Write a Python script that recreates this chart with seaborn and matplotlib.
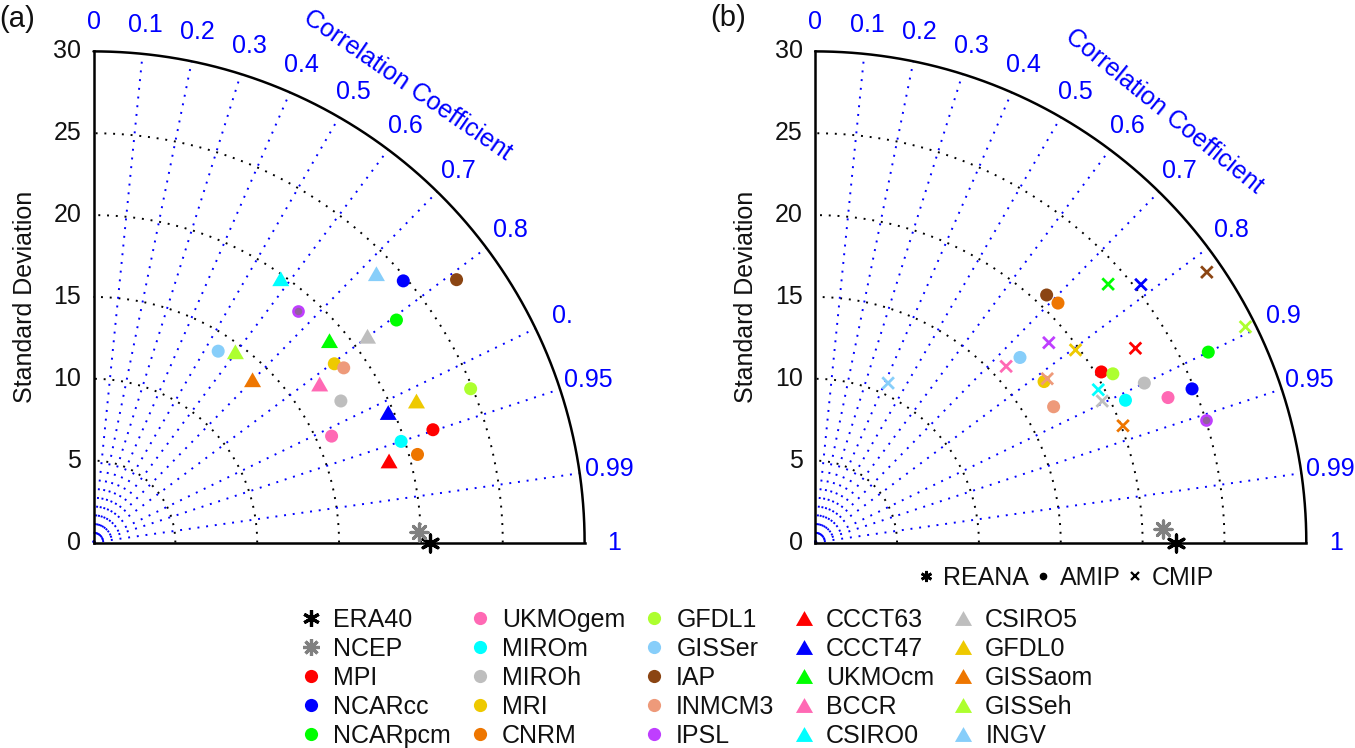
import numpy as np
import pandas as pd
import matplotlib
matplotlib.use("Agg")
import matplotlib.pyplot as plt
import seaborn as sns
from matplotlib.lines import Line2D

sns.set_theme(style="white")
plt.rcParams["font.family"] = ["Liberation Sans", "DejaVu Sans"]

# ---------------- data ----------------
ref_names = ["ERA40", "NCEP"]
ref_colors = ["#000000", "#808080"]

circle_names = ["MPI", "NCARcc", "NCARpcm", "UKMOgem", "MIROm", "MIROh", "MRI",
                "CNRM", "GFDL1", "GISSer", "IAP", "INMCM3", "IPSL"]
circle_colors = ["#ff0000", "#0000ff", "#00ff00", "#ff69b4", "#00ffff", "#bebebe",
                 "#eec900", "#ee7600", "#adff2f", "#87cefa", "#8b4513", "#ee9a7a",
                 "#bf3eff"]
tri_names = ["CCCT63", "CCCT47", "UKMOcm", "BCCR", "CSIRO0", "CSIRO5", "GFDL0",
             "GISSaom", "GISSeh", "INGV"]
tri_colors = circle_colors[:10]

# panel (a): standard deviation and correlation
a_ref_std = [20.54, 19.89]
a_ref_corr = [1.0, 0.9995]
a_circle_std = [21.85, 24.77, 22.96, 15.93, 19.78, 17.41, 18.32,
                20.51, 24.88, 13.95, 27.38, 18.64, 18.85]
a_circle_corr = [0.949, 0.764, 0.806, 0.913, 0.950, 0.868, 0.803,
                 0.965, 0.926, 0.546, 0.810, 0.820, 0.663]
a_tri_std = [18.73, 19.68, 18.97, 16.87, 19.76, 20.95, 21.54, 13.90, 14.52, 23.84]
a_tri_corr = [0.964, 0.915, 0.760, 0.819, 0.579, 0.799, 0.916, 0.699, 0.597, 0.725]

# panel (b): AMIP (circles) and CMIP (crosses), same model order as circle_names
b_ref_std = [22.05, 21.25]
b_ref_corr = [1.0, 0.9993]
b_amip_std = [20.35, 24.86, 26.68, 23.30, 20.85, 22.34, 17.09,
              20.83, 20.90, 16.86, 20.70, 16.76, 25.03]
b_amip_corr = [0.859, 0.926, 0.900, 0.925, 0.909, 0.900, 0.818,
               0.712, 0.870, 0.742, 0.683, 0.869, 0.954]
b_cmip_std = [22.88, 25.38, 23.86, 15.87, 19.65, 19.55, 19.78,
              20.11, 29.40, 10.71, 29.07, 17.35, 18.78]
b_cmip_corr = [0.855, 0.784, 0.750, 0.735, 0.880, 0.897, 0.804,
               0.935, 0.894, 0.416, 0.823, 0.817, 0.760]

corr_ticks = [0, 0.1, 0.2, 0.3, 0.4, 0.5, 0.6, 0.7, 0.8, 0.9, 0.95, 0.99, 1]
corr_labels_a = ["0", "0.1", "0.2", "0.3", "0.4", "0.5", "0.6", "0.7", "0.8",
                 "0.", "0.95", "0.99", "1"]
corr_labels_b = ["0", "0.1", "0.2", "0.3", "0.4", "0.5", "0.6", "0.7", "0.8",
                 "0.9", "0.95", "0.99", "1"]
corr_lines = [0.1, 0.2, 0.3, 0.4, 0.5, 0.6, 0.7, 0.8, 0.9, 0.95, 0.99]
std_ticks = [0, 5, 10, 15, 20, 25, 30]
std_arcs = [5, 10, 15, 20, 25]
std_max = 30

# ---------------- figure ----------------
FS = 18
W, H = 1355, 748
S = 16.37  # pixels per std unit
fig = plt.figure(figsize=(W / 100, H / 100), dpi=100)


def make_axes(x0, y0):
    ax = fig.add_axes([x0 / W, (H - y0) / H, std_max * S / W, std_max * S / H])
    ax.set_xlim(0, std_max)
    ax.set_ylim(0, std_max)
    ax.axis("off")
    return ax


def to_df(names, std, corr):
    std = np.asarray(std, float)
    th = np.arccos(np.clip(np.asarray(corr, float), -1, 1))
    return pd.DataFrame({"model": names, "x": std * np.cos(th), "y": std * np.sin(th)})


DOT = (0, (1, 3.5))


def draw_frame(ax, labels, cc_ang, cc_rot):
    t = np.linspace(0, np.pi / 2, 400)
    for r in std_arcs:
        ax.plot(r * np.cos(t), r * np.sin(t), color="black", lw=1.4, ls=DOT,
                clip_on=False, zorder=1)
    for c in corr_lines:
        th = np.arccos(c)
        ax.plot([0, std_max * np.cos(th)], [0, std_max * np.sin(th)], color="#0000ff",
                lw=1.4, ls=DOT, clip_on=False, zorder=1)
    ax.plot(std_max * np.cos(t), std_max * np.sin(t), color="black", lw=1.8,
            clip_on=False, zorder=2)
    ax.plot([0, 0], [0, std_max], color="black", lw=1.8, clip_on=False, zorder=2,
            solid_capstyle="projecting")
    ax.plot([0, std_max], [0, 0], color="black", lw=1.8, clip_on=False, zorder=2,
            solid_capstyle="projecting")
    for v in std_ticks:
        ax.text(-0.75, v, str(v), ha="right", va="center", fontsize=FS, color="#111111")
    ax.text(-4.2, std_max / 2, "Standard Deviation", rotation=90, ha="center",
            va="center", fontsize=FS, color="#111111")
    for c, lab in zip(corr_ticks, labels):
        th = np.arccos(c)
        ax.text(31.8 * np.cos(th), 31.8 * np.sin(th), lab, ha="center", va="center",
                fontsize=FS, color="#0000ff")
    a = np.deg2rad(cc_ang)
    ax.text(33.9 * np.cos(a), 33.9 * np.sin(a), "Correlation Coefficient",
            rotation=cc_rot, rotation_mode="anchor", ha="center", va="center",
            fontsize=FS, color="#0000ff")


ax_a = make_axes(93.5, 542.5)
ax_b = make_axes(815.2, 542.5)
draw_frame(ax_a, corr_labels_a, 55.5, -34.5)
draw_frame(ax_b, corr_labels_b, 51.0, -39.0)

circ_pal = dict(zip(circle_names, circle_colors))
tri_pal = dict(zip(tri_names, tri_colors))
TRI = [(0, 0.87), (-1, -0.87), (1, -0.87)]
ref_markers = [(6, 2, 0), (8, 2, 0)]


def draw_refs(ax, std, corr):
    df = to_df(ref_names, std, corr)
    for i in range(len(df)):
        sns.scatterplot(x=df.x.iloc[[i]], y=df.y.iloc[[i]], color=ref_colors[i],
                        marker=ref_markers[i], s=150, linewidth=2.3, ax=ax,
                        legend=False, clip_on=False, zorder=5)


def draw_circles(ax, std, corr):
    df = to_df(circle_names, std, corr)
    main = df[df.model != "IPSL"]
    sns.scatterplot(data=main, x="x", y="y", hue="model", palette=circ_pal,
                    marker="o", s=88, linewidth=0, edgecolor="none", ax=ax,
                    legend=False, clip_on=False, zorder=4)
    ip = df[df.model == "IPSL"]
    sns.scatterplot(data=ip, x="x", y="y", color="#93609f", marker="o", s=52,
                    linewidth=1.9, edgecolor="#bf3eff", ax=ax, legend=False,
                    clip_on=False, zorder=4)


# panel (a)
draw_circles(ax_a, a_circle_std, a_circle_corr)
dft = to_df(tri_names, a_tri_std, a_tri_corr)
sns.scatterplot(data=dft, x="x", y="y", hue="model", palette=tri_pal, marker=TRI,
                s=150, linewidth=0, edgecolor="none", ax=ax_a, legend=False,
                clip_on=False, zorder=4)
draw_refs(ax_a, a_ref_std, a_ref_corr)

# panel (b)
draw_circles(ax_b, b_amip_std, b_amip_corr)
dfx = to_df(circle_names, b_cmip_std, b_cmip_corr)
sns.scatterplot(data=dfx, x="x", y="y", hue="model", palette=circ_pal, marker="x",
                s=70, linewidth=2.0, ax=ax_b, legend=False, clip_on=False, zorder=5)
draw_refs(ax_b, b_ref_std, b_ref_corr)

# panel tags
fig.text(17 / W, 1 - 19 / H, "(a)", ha="center", va="center", fontsize=FS + 3,
         color="#111111")
fig.text(728 / W, 1 - 18 / H, "(b)", ha="center", va="center", fontsize=FS + 3,
         color="#111111")

# main legend
handles, labels = [], []
for n, c, m in zip(ref_names, ref_colors, ref_markers):
    handles.append(Line2D([], [], ls="none", marker=m, color=c, markersize=12, mew=2.3))
    labels.append(n)
for n, c in zip(circle_names, circle_colors):
    handles.append(Line2D([], [], ls="none", marker="o", color=c, mec="none",
                          markersize=9.5))
    labels.append(n)
for n, c in zip(tri_names, tri_colors):
    handles.append(Line2D([], [], ls="none", marker=TRI, color=c, mec="none",
                          markersize=12.3))
    labels.append(n)
leg = fig.legend(handles, labels, ncol=5, loc="upper left",
                 bbox_to_anchor=(298 / W, 1 - 608 / H), frameon=False, fontsize=FS,
                 handlelength=1.0, handletextpad=0.39, columnspacing=0.66,
                 labelspacing=0.2, borderpad=0, borderaxespad=0)
for t in leg.get_texts():
    t.set_color("#111111")

# REANA / AMIP / CMIP key under panel (b)
kh = [Line2D([], [], ls="none", marker=(6, 2, 0), color="black", markersize=8, mew=2),
      Line2D([], [], ls="none", marker="o", color="black", markersize=4.5),
      Line2D([], [], ls="none", marker="x", color="black", markersize=6, mew=1.6)]
leg2 = fig.legend(kh, ["REANA", "AMIP", "CMIP"], ncol=3, loc="center",
                  bbox_to_anchor=(1066 / W, 1 - 578 / H), frameon=False, fontsize=FS,
                  handlelength=0.6, handletextpad=0.38, columnspacing=0.26,
                  borderpad=0, borderaxespad=0)
for t in leg2.get_texts():
    t.set_color("#111111")

fig.savefig("out.png", dpi=100)
